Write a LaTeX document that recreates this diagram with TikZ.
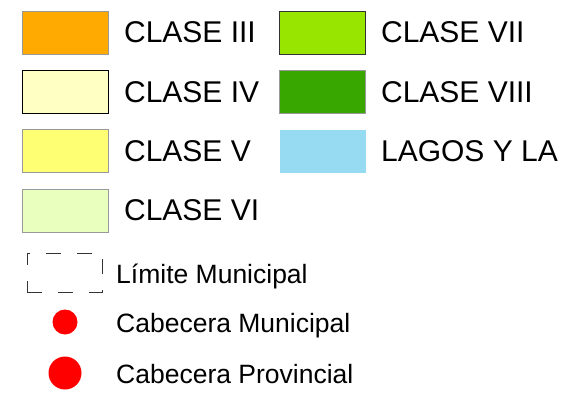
\documentclass[tikz,border=0pt]{standalone}
\usepackage{fontspec}
\setmainfont{Liberation Sans}
\usetikzlibrary{positioning}
\definecolor{claseiii}{HTML}{FFAA00}
\definecolor{claseiv}{HTML}{FFFFC3}
\definecolor{clasev}{HTML}{FFFF73}
\definecolor{clasevi}{HTML}{E9FFBE}
\definecolor{clasevii}{HTML}{98E600}
\definecolor{claseviii}{HTML}{38A800}
\definecolor{lagos}{HTML}{97DBF2}
\tikzset{swatch/.style={draw=gray!80, line width=0.8pt, minimum width=86pt, minimum height=43pt, inner sep=0pt},
         clase/.style={font=\fontsize{30}{36}\selectfont, inner sep=0pt},
         leyenda/.style={font=\fontsize{26.5}{32}\selectfont, inner sep=0pt, anchor=base west},
         cabecera/.style={circle, fill=red, inner sep=0pt}}

\begin{document}
\begin{tikzpicture}[x=1pt, y=-1pt]
            \useasboundingbox (0,0) rectangle (577,393);
            \node[swatch, fill=claseiii] (c3) at (65,32.5) {};
            \node[swatch, fill=claseiv, draw=black, below=15.5pt of c3] (c4) {};
            \node[swatch, fill=clasev, below=15.5pt of c4] (c5) {};
            \node[swatch, fill=clasevi, below=15.5pt of c5] (c6) {};
            \node[clase, right=15.5pt of c3] (t3) {CLASE III};
            \node[clase, right=15.5pt of c4] (t4) {CLASE IV};
            \node[clase, right=15.5pt of c5] (t5) {CLASE V};
            \node[clase, right=15.5pt of c6] (t6) {CLASE VI};

            \node[swatch, fill=clasevii, draw=black!80] (c7) at (322.5,32.5) {};
            \node[swatch, fill=claseviii, below=15.5pt of c7] (c8) {};
            \node[swatch, fill=lagos, draw=none, below=15.5pt of c8] (lg) {};
            \node[clase, right=15pt of c7] (t7) {CLASE VII};
            \node[clase, right=15pt of c8] (t8) {CLASE VIII};
            \node[clase, right=15pt of lg] (tl) {LAGOS Y LA};

            \node[draw=black!80, line width=0.8pt, dash pattern=on 15pt off 16pt, minimum width=75pt, minimum height=39pt, inner sep=0pt] (lim) at (64.5,272.5) {};
            \node[leyenda] (tlim) at (116,283) {Límite Municipal};
            \node[cabecera, minimum size=25pt] (cmun) at (65,322) {};
            \node[leyenda] (tmun) at (116,332) {Cabecera Municipal};
            \node[cabecera, minimum size=33pt] (cprov) at (65,373) {};
            \node[leyenda] (tprov) at (116,383) {Cabecera Provincial};
      \end{tikzpicture}
\end{document}
